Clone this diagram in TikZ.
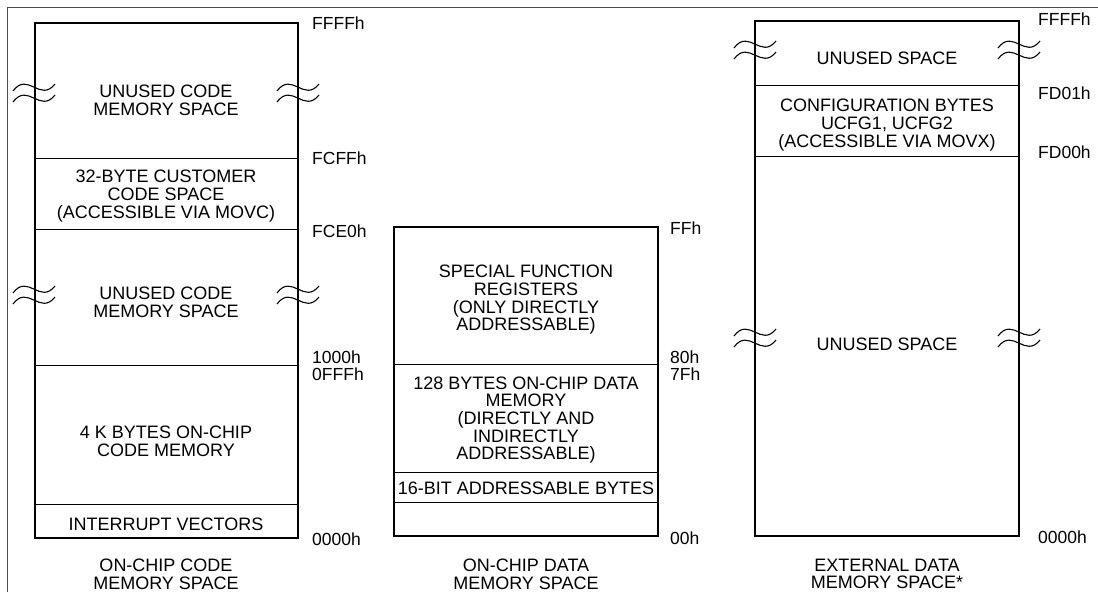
\documentclass[tikz,border=0pt]{standalone}
\usepackage{fontspec}
\setmainfont{Liberation Sans}
\usepackage{tikz}

% break mark: two wavy strokes across a box edge
\newcommand{\brkmark}[2]{%
  \draw[brk] (#1-21,#2-2) .. controls (#1-6,#2-22) and (#1+6,#2+10) .. (#1+21,#2-9);
  \draw[brk] (#1-21,#2+9) .. controls (#1-6,#2-11) and (#1+6,#2+21) .. (#1+21,#2+2);
}

\begin{document}
\begin{tikzpicture}[x=1pt,y=-1pt,
    txt/.style={align=center,font=\fontsize{18}{17.7}\selectfont},
    addr/.style={anchor=west,inner sep=0pt,font=\fontsize{17.5}{17.7}\selectfont},
    outline/.style={line width=2pt},
    sep/.style={line width=0.9pt},
    brk/.style={line width=1.1pt}]
			\useasboundingbox (0,0) rectangle (1098,592);
			\draw[black!70,line width=0.8pt] (7,592) -- (7,7) -- (1098,7);
			% code memory
			\draw[outline] (35,23) rectangle (298,538);
			\draw[sep] (35,158) -- (298,158);
			\draw[sep] (35,229) -- (298,229);
			\draw[sep] (35,365) -- (298,365);
			\draw[sep] (35,504) -- (298,504);
			\brkmark{34}{93} \brkmark{298}{93}
			\brkmark{34}{295} \brkmark{298}{295}
			\node[txt] (unusedhi) at (166,100) {UNUSED CODE\\MEMORY SPACE};
			\node[txt] (custcode) at (166,196) {32-BYTE CUSTOMER\\CODE SPACE\\(ACCESSIBLE VIA MOVC)};
			\node[txt] (unusedlo) at (166,302) {UNUSED CODE\\MEMORY SPACE};
			\node[txt] (codemem) at (166,441) {4 K BYTES ON-CHIP\\CODE MEMORY};
			\node[txt] (intvec) at (166,524) {INTERRUPT VECTORS};
			\node[txt] (codecap) at (166,574) {ON-CHIP CODE\\MEMORY SPACE};
			\node[addr] (cffff) at (312,23) {FFFFh};
			\node[addr] (cfcff) at (312,158) {FCFFh};
			\node[addr] (cfce0) at (312,231) {FCE0h};
			\node[addr] (c1000) at (312,357) {1000h};
			\node[addr] (c0fff) at (312,374) {0FFFh};
			\node[addr] (c0000) at (312,539) {0000h};
			% data memory
			\draw[outline] (394,227) rectangle (658,536);
			\draw[sep] (394,364) -- (658,364);
			\draw[sep] (394,472) -- (658,472);
			\draw[sep] (394,502) -- (658,502);
			\node[txt] (sfr) at (526,300) {SPECIAL FUNCTION\\REGISTERS\\(ONLY DIRECTLY\\ADDRESSABLE)};
			\node[txt] (dram) at (526,420) {128 BYTES ON-CHIP DATA\\MEMORY\\(DIRECTLY AND\\INDIRECTLY\\ADDRESSABLE)};
			\node[txt] (bitaddr) at (526,488) {16-BIT ADDRESSABLE BYTES};
			\node[txt] (datacap) at (526,574) {ON-CHIP DATA\\MEMORY SPACE};
			\node[addr] (dff) at (670,228) {FFh};
			\node[addr] (d80) at (670,357) {80h};
			\node[addr] (d7f) at (670,374) {7Fh};
			\node[addr] (d00) at (670,538) {00h};
			% external data memory
			\draw[outline] (755,21) rectangle (1019,536);
			\draw[sep] (755,85) -- (1019,85);
			\draw[sep] (755,156) -- (1019,156);
			\brkmark{755}{50} \brkmark{1019}{50}
			\brkmark{755}{338} \brkmark{1019}{338}
			\node[txt] (xunusedhi) at (887,58) {UNUSED SPACE};
			\node[txt] (ucfg) at (887,125) {CONFIGURATION BYTES\\UCFG1, UCFG2\\(ACCESSIBLE VIA MOVX)};
			\node[txt] (xunusedlo) at (887,344) {UNUSED SPACE};
			\node[txt] (xcap) at (887,574) {EXTERNAL DATA\\MEMORY SPACE*};
			\node[addr] (xffff) at (1038,19) {FFFFh};
			\node[addr] (xfd01) at (1038,93) {FD01h};
			\node[addr] (xfd00) at (1038,152) {FD00h};
			\node[addr] (x0000) at (1038,537) {0000h};
		\end{tikzpicture}
\end{document}
